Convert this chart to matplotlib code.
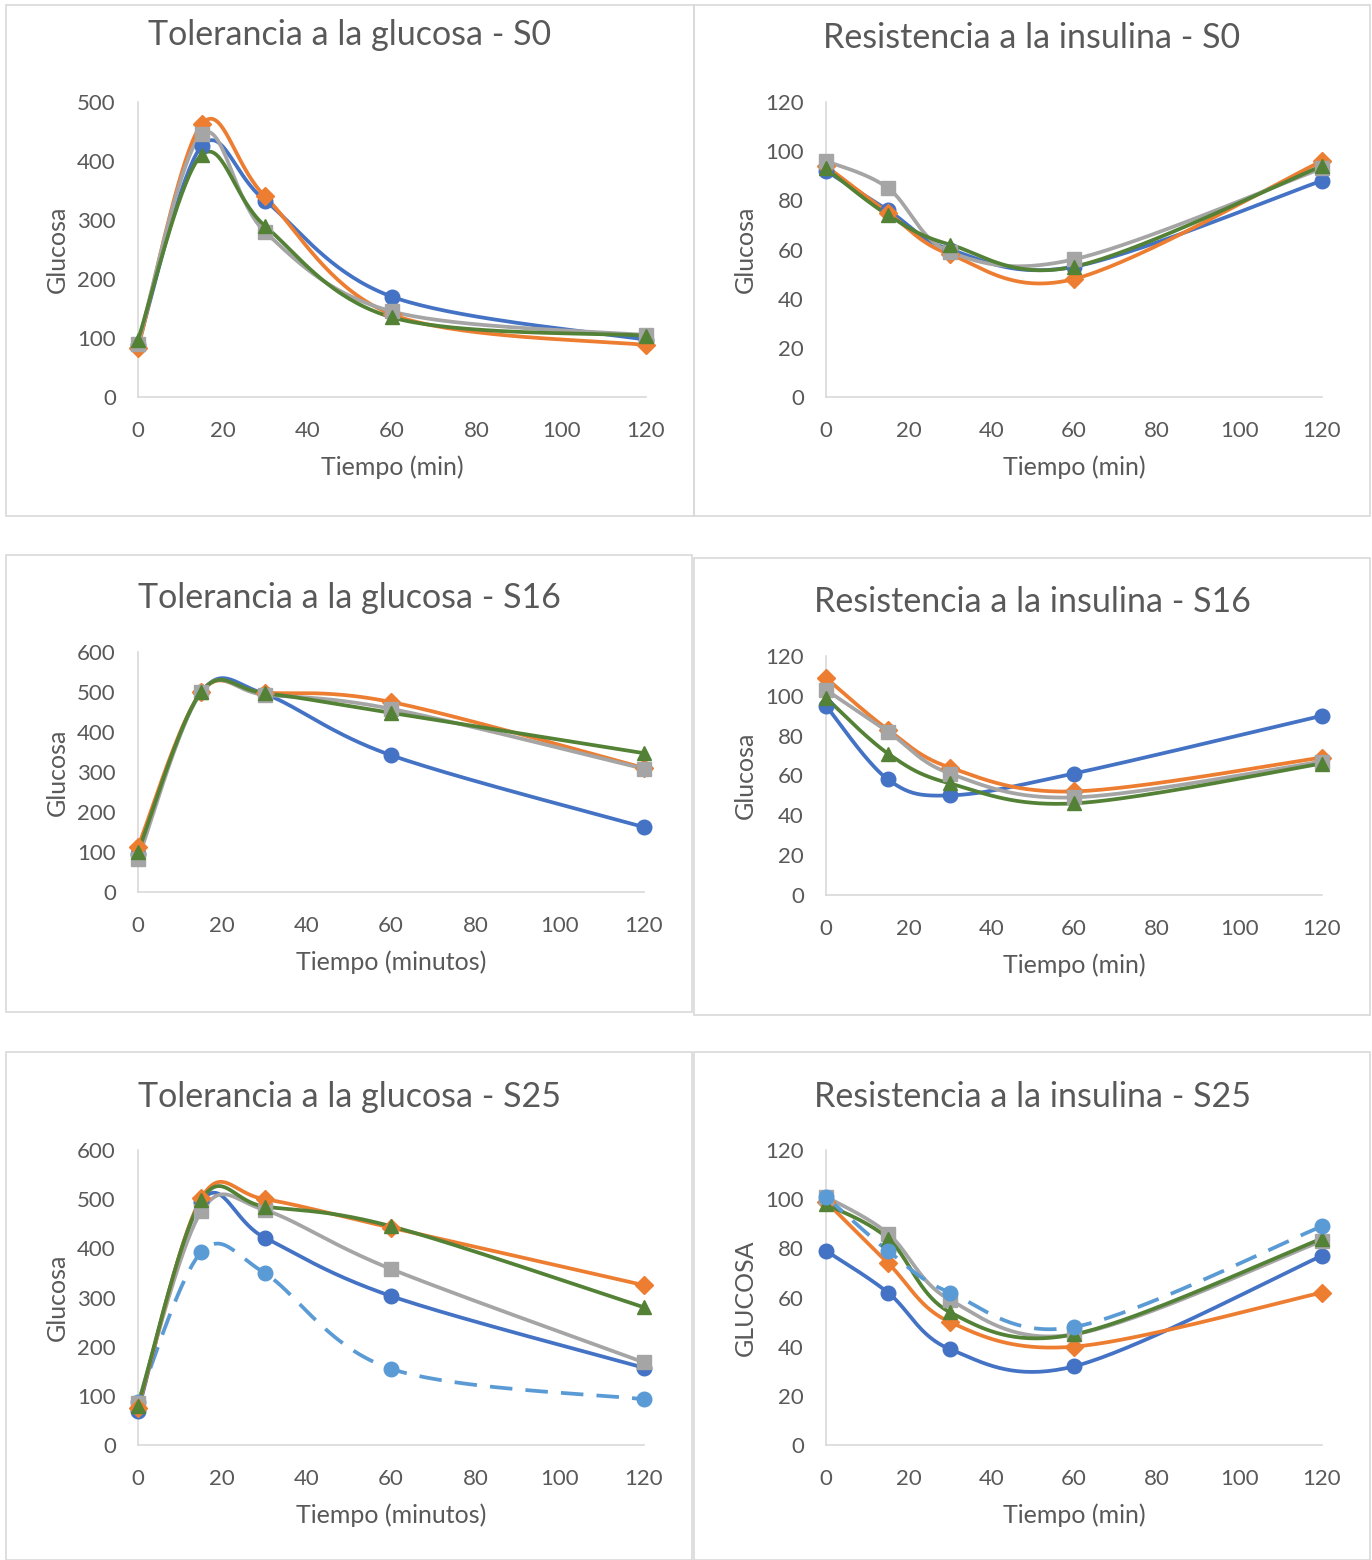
import numpy as np
import matplotlib
matplotlib.use("Agg")
import matplotlib.pyplot as plt
from matplotlib.patches import Rectangle

plt.rcParams['font.family'] = ['Lato', 'DejaVu Sans']

# tiempo de muestreo (min)
tiempo = [0, 15, 30, 60, 120]

# Tolerancia a la glucosa - S0
gtt_s0_azul = [88, 425, 333, 170, 97]
gtt_s0_naranja = [83, 462, 340, 140, 88]
gtt_s0_gris = [90, 445, 280, 145, 105]
gtt_s0_verde = [97, 410, 290, 135, 104]

# Resistencia a la insulina - S0
itt_s0_azul = [92, 76, 60, 53, 88]
itt_s0_naranja = [94, 75, 58, 48, 96]
itt_s0_gris = [96, 85, 59, 56, 93]
itt_s0_verde = [93, 74, 62, 53, 94]

# Tolerancia a la glucosa - S16
gtt_s16_azul = [95, 500, 495, 342, 162]
gtt_s16_naranja = [113, 500, 498, 475, 310]
gtt_s16_gris = [82, 500, 493, 458, 308]
gtt_s16_verde = [100, 500, 497, 448, 347]

# Resistencia a la insulina - S16
itt_s16_azul = [95, 58, 50, 61, 90]
itt_s16_naranja = [109, 83, 64, 52, 69]
itt_s16_gris = [103, 82, 61, 49, 67]
itt_s16_verde = [99, 71, 56, 46, 66]

# Tolerancia a la glucosa - S25
gtt_s25_azul = [70, 495, 422, 303, 157]
gtt_s25_naranja = [75, 502, 500, 442, 325]
gtt_s25_gris = [85, 475, 478, 358, 168]
gtt_s25_verde = [80, 498, 485, 445, 280]
gtt_s25_celeste = [88, 392, 350, 155, 93]

# Resistencia a la insulina - S25
itt_s25_azul = [79, 62, 39, 32, 77]
itt_s25_naranja = [99, 74, 50, 40, 62]
itt_s25_gris = [101, 86, 59, 45, 83]
itt_s25_verde = [98, 84, 54, 45, 84]
itt_s25_celeste = [101, 79, 62, 48, 89]

W, H = 1372, 1560
TXT = '#595959'
BORDE = '#D9D9D9'

estilos = {
    'azul': dict(color='#4472C4', marker='o', ls='-'),
    'naranja': dict(color='#ED7D31', marker='D', ls='-'),
    'gris': dict(color='#A5A5A5', marker='s', ls='-'),
    'verde': dict(color='#538135', marker='^', ls='-'),
    'celeste': dict(color='#5B9BD5', marker='o', ls=(0, (6, 3.5))),
}


def smooth(x, y, n=40):
    # curva suavizada tipo Excel (bezier cubica por tramos)
    pts = np.column_stack([x, y]).astype(float)
    P = np.vstack([pts[0], pts, pts[-1]])
    t = np.linspace(0, 1, n)[:, None]
    out = []
    for i in range(1, len(P) - 2):
        p0, p1, p2, p3 = P[i - 1], P[i], P[i + 1], P[i + 2]
        c1 = p1 + (p2 - p0) / 6
        c2 = p2 - (p3 - p1) / 6
        seg = (1 - t) ** 3 * p1 + 3 * (1 - t) ** 2 * t * c1 + 3 * (1 - t) * t ** 2 * c2 + t ** 3 * p2
        out.append(seg)
    out = np.vstack(out)
    return out[:, 0], out[:, 1]


def px_rect(x0, x1, ytop, ybot):
    return [x0 / W, 1 - ybot / H, (x1 - x0) / W, (ybot - ytop) / H]


panels = [
    # caja, area del grafico, titulo, ylim, paso, xlabel, ylabel, series
    dict(box=(6, 694, 5, 516), area=(138, 646, 102, 397), title='Tolerancia a la glucosa - S0', ty=35,
         ymax=500, step=100, xl='Tiempo (min)', yl='Glucosa',
         series=[('azul', gtt_s0_azul), ('naranja', gtt_s0_naranja), ('gris', gtt_s0_gris), ('verde', gtt_s0_verde)]),
    dict(box=(694, 1370, 5, 516), area=(826, 1322, 102, 397), title='Resistencia a la insulina - S0', ty=38,
         ymax=120, step=20, xl='Tiempo (min)', yl='Glucosa',
         series=[('azul', itt_s0_azul), ('naranja', itt_s0_naranja), ('gris', itt_s0_gris), ('verde', itt_s0_verde)]),
    dict(box=(6, 692, 555, 1012), area=(138, 644, 652, 892), title='Tolerancia a la glucosa - S16', ty=598,
         ymax=600, step=100, xl='Tiempo (minutos)', yl='Glucosa',
         series=[('azul', gtt_s16_azul), ('naranja', gtt_s16_naranja), ('gris', gtt_s16_gris), ('verde', gtt_s16_verde)]),
    dict(box=(694, 1370, 558, 1015), area=(826, 1322, 656, 895), title='Resistencia a la insulina - S16', ty=602,
         ymax=120, step=20, xl='Tiempo (min)', yl='Glucosa',
         series=[('azul', itt_s16_azul), ('naranja', itt_s16_naranja), ('gris', itt_s16_gris), ('verde', itt_s16_verde)]),
    dict(box=(6, 692, 1052, 1560), area=(138, 644, 1150, 1445), title='Tolerancia a la glucosa - S25', ty=1097,
         ymax=600, step=100, xl='Tiempo (minutos)', yl='Glucosa',
         series=[('celeste', gtt_s25_celeste), ('azul', gtt_s25_azul), ('gris', gtt_s25_gris),
                 ('naranja', gtt_s25_naranja), ('verde', gtt_s25_verde)]),
    dict(box=(694, 1370, 1052, 1560), area=(826, 1322, 1150, 1445), title='Resistencia a la insulina - S25', ty=1097,
         ymax=120, step=20, xl='Tiempo (min)', yl='GLUCOSA',
         series=[('azul', itt_s25_azul), ('naranja', itt_s25_naranja), ('gris', itt_s25_gris),
                 ('verde', itt_s25_verde), ('celeste', itt_s25_celeste)]),
]

fig = plt.figure(figsize=(W / 100, H / 100), dpi=100)

for p in panels:
    bx0, bx1, by0, by1 = p['box']
    fig.patches.append(Rectangle((bx0 / W, 1 - by1 / H), (bx1 - bx0) / W, (by1 - by0) / H,
                                 transform=fig.transFigure, fill=False, edgecolor=BORDE, lw=1.2))
    ax0, ax1, ay0, ay1 = p['area']
    ax = fig.add_axes(px_rect(ax0, ax1, ay0, ay1))
    for nombre, vals in p['series']:
        st = estilos[nombre]
        xs, ys = smooth(tiempo, vals)
        ax.plot(xs, ys, color=st['color'], lw=2.7, ls=st['ls'], clip_on=False, zorder=3)
        ax.plot(tiempo, vals, color=st['color'], marker=st['marker'], ls='none',
                ms=10.5 if st['marker'] != 'D' else 9, clip_on=False, zorder=4)
    ax.set_xlim(0, 120)
    ax.set_ylim(0, p['ymax'])
    ax.set_xticks(range(0, 121, 20))
    ax.set_yticks(range(0, p['ymax'] + 1, p['step']))
    for s in ['top', 'right']:
        ax.spines[s].set_visible(False)
    for s in ['left', 'bottom']:
        ax.spines[s].set_color(BORDE)
        ax.spines[s].set_linewidth(1.2)
    ax.tick_params(length=0, labelsize=16, colors=TXT)
    ax.tick_params(axis='y', pad=16)
    ax.tick_params(axis='x', pad=17)
    ax.set_xlabel(p['xl'], fontsize=18, color=TXT, labelpad=11)
    ax.set_ylabel(p['yl'], fontsize=18, color=TXT, labelpad=6)
    fig.text(((bx0 + bx1) / 2) / W, 1 - p['ty'] / H, p['title'], ha='center', va='center',
             fontsize=24.5, color=TXT)

fig.savefig('out.png', dpi=100)
